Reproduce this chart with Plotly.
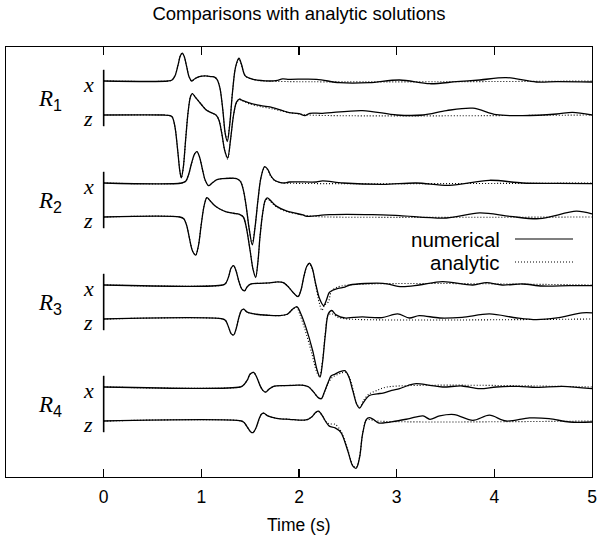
import plotly.graph_objects as go

# ---------------- data (time in s, amplitude in trace-spacing units) ----------------
TICK_VALUES = [0, 1, 2, 3, 4, 5]
TICK_LABELS = ["0", "1", "2", "3", "4", "5"]
RECEIVERS = ["R1", "R2", "R3", "R4"]
COMPONENTS = ["x", "z"]

# R1 x
R1X_NUM_T = [0, 0.66, 0.70, 0.73, 0.76, 0.785, 0.805, 0.825, 0.85, 0.875, 0.90, 0.93, 0.98, 1.04, 1.10, 1.13, 1.16, 1.19, 1.22, 1.245, 1.266, 1.29, 1.32, 1.35, 1.385, 1.41, 1.45, 1.53, 1.70, 1.78, 1.83, 1.90, 2.18, 2.415, 2.72, 3.03, 3.34, 3.61, 3.85, 4.12, 4.43, 4.64, 5.0]
R1X_NUM_A = [0, 0, 0.03, 0.15, 0.45, 0.74, 0.82, 0.72, 0.42, 0.12, 0.0, 0.06, 0.13, 0.15, 0.13, 0.12, 0.05, -0.2, -0.85, -1.55, -1.78, -1.3, -0.3, 0.4, 0.67, 0.5, 0.15, 0.05, 0.0, 0.02, 0.06, 0.05, 0.05, -0.05, -0.05, 0.03, -0.08, -0.02, 0.03, 0.1, -0.03, -0.02, -0.03]
R1X_ANA_T = [0, 0.66, 0.70, 0.73, 0.76, 0.785, 0.805, 0.825, 0.85, 0.875, 0.90, 0.93, 0.98, 1.04, 1.10, 1.13, 1.16, 1.19, 1.22, 1.245, 1.266, 1.29, 1.32, 1.35, 1.385, 1.41, 1.45, 1.53, 1.65, 5.0]
R1X_ANA_A = [0, 0, 0.03, 0.15, 0.45, 0.74, 0.82, 0.72, 0.42, 0.12, 0.0, 0.06, 0.13, 0.15, 0.13, 0.12, 0.05, -0.2, -0.85, -1.55, -1.72, -1.3, -0.3, 0.4, 0.65, 0.48, 0.15, 0.04, 0.0, 0.0]

# R1 z
R1Z_NUM_T = [0, 0.62, 0.66, 0.70, 0.73, 0.76, 0.78, 0.795, 0.815, 0.84, 0.865, 0.89, 0.908, 0.94, 0.98, 1.02, 1.05, 1.10, 1.15, 1.18, 1.21, 1.24, 1.27, 1.30, 1.33, 1.36, 1.39, 1.42, 1.49, 1.60, 1.73, 1.83, 1.90, 2.0, 2.06, 2.11, 2.24, 2.65, 3.0, 3.27, 3.51, 3.78, 4.02, 4.29, 4.64, 4.80, 5.0]
R1Z_NUM_A = [0, 0, -0.01, -0.05, -0.35, -1.1, -1.65, -1.85, -1.55, -0.7, 0.1, 0.55, 0.63, 0.52, 0.38, 0.24, 0.15, 0.07, 0.0, -0.15, -0.55, -1.05, -1.26, -0.7, 0.0, 0.38, 0.47, 0.43, 0.36, 0.28, 0.22, 0.13, 0.07, 0.04, -0.02, 0.05, 0.05, 0.13, 0.0, 0.0, 0.13, 0.2, 0.01, -0.02, 0.03, 0.08, 0.0]
R1Z_ANA_T = [0, 0.62, 0.66, 0.70, 0.73, 0.76, 0.78, 0.795, 0.815, 0.84, 0.865, 0.89, 0.908, 0.94, 0.98, 1.02, 1.05, 1.10, 1.15, 1.18, 1.21, 1.24, 1.27, 1.30, 1.33, 1.36, 1.39, 1.42, 1.49, 1.60, 1.73, 1.83, 1.95, 2.10, 5.0]
R1Z_ANA_A = [0, 0, -0.01, -0.05, -0.35, -1.1, -1.65, -1.85, -1.55, -0.7, 0.1, 0.55, 0.63, 0.52, 0.38, 0.24, 0.15, 0.07, 0.0, -0.15, -0.55, -1.05, -1.3, -0.7, 0.0, 0.36, 0.45, 0.42, 0.33, 0.25, 0.18, 0.11, 0.05, 0.0, 0.0]

# R2 x
R2X_NUM_T = [0, 0.80, 0.84, 0.87, 0.90, 0.93, 0.955, 0.98, 1.01, 1.04, 1.075, 1.11, 1.16, 1.22, 1.30, 1.36, 1.40, 1.43, 1.46, 1.49, 1.522, 1.55, 1.58, 1.61, 1.648, 1.68, 1.71, 1.75, 1.80, 1.85, 1.90, 2.18, 2.24, 2.45, 2.86, 3.20, 3.54, 3.95, 4.29, 4.64, 5.0]
R2X_NUM_A = [0, 0, 0.05, 0.25, 0.58, 0.85, 0.92, 0.78, 0.42, 0.08, -0.08, 0.0, 0.1, 0.13, 0.14, 0.13, 0.05, -0.2, -0.7, -1.35, -1.82, -1.3, -0.5, 0.15, 0.48, 0.4, 0.22, 0.08, 0.02, 0.0, 0.03, 0.03, 0.06, 0.0, -0.04, 0.0, -0.07, 0.08, 0.0, -0.01, -0.02]
R2X_ANA_T = [0, 0.80, 0.84, 0.87, 0.90, 0.93, 0.955, 0.98, 1.01, 1.04, 1.075, 1.11, 1.16, 1.22, 1.30, 1.36, 1.40, 1.43, 1.46, 1.49, 1.518, 1.55, 1.58, 1.61, 1.648, 1.68, 1.71, 1.75, 1.80, 1.85, 5.0]
R2X_ANA_A = [0, 0, 0.05, 0.25, 0.58, 0.85, 0.92, 0.78, 0.42, 0.08, -0.08, 0.0, 0.1, 0.13, 0.14, 0.13, 0.05, -0.2, -0.7, -1.35, -1.78, -1.3, -0.5, 0.15, 0.46, 0.38, 0.2, 0.07, 0.02, 0.0, 0.0]

# R2 z
R2Z_NUM_T = [0, 0.78, 0.82, 0.85, 0.88, 0.91, 0.942, 0.97, 1.0, 1.03, 1.057, 1.09, 1.13, 1.18, 1.256, 1.33, 1.39, 1.43, 1.46, 1.50, 1.53, 1.556, 1.58, 1.60, 1.63, 1.655, 1.678, 1.72, 1.768, 1.87, 1.95, 2.04, 2.08, 2.31, 2.75, 3.03, 3.51, 3.85, 4.16, 4.46, 4.84, 5.0]
R2Z_NUM_A = [0, 0, -0.05, -0.25, -0.65, -1.0, -1.12, -0.85, -0.2, 0.35, 0.57, 0.48, 0.35, 0.25, 0.15, 0.11, 0.08, 0.0, -0.3, -1.0, -1.55, -1.78, -1.3, -0.6, 0.15, 0.5, 0.56, 0.45, 0.32, 0.18, 0.12, 0.06, 0.02, 0.07, 0.07, 0.04, -0.03, 0.12, 0.02, -0.05, 0.17, 0.09]
R2Z_ANA_T = [0, 0.78, 0.82, 0.85, 0.88, 0.91, 0.942, 0.97, 1.0, 1.03, 1.057, 1.09, 1.13, 1.18, 1.256, 1.33, 1.39, 1.43, 1.46, 1.50, 1.53, 1.556, 1.58, 1.60, 1.63, 1.655, 1.678, 1.72, 1.768, 1.87, 2.0, 2.15, 2.3, 5.0]
R2Z_ANA_A = [0, 0, -0.05, -0.25, -0.65, -1.0, -1.12, -0.85, -0.2, 0.35, 0.57, 0.48, 0.35, 0.25, 0.15, 0.11, 0.08, 0.0, -0.3, -1.0, -1.55, -1.75, -1.3, -0.6, 0.15, 0.48, 0.53, 0.42, 0.3, 0.16, 0.08, 0.02, 0.0, 0.0]

# R3 x
R3X_NUM_T = [0, 1.22, 1.25, 1.28, 1.305, 1.33, 1.355, 1.385, 1.415, 1.443, 1.47, 1.51, 1.60, 1.70, 1.78, 1.84, 1.89, 1.94, 1.99, 2.02, 2.05, 2.08, 2.108, 2.135, 2.17, 2.21, 2.252, 2.28, 2.31, 2.347, 2.40, 2.47, 2.52, 2.86, 3.05, 3.23, 3.47, 3.78, 3.92, 4.08, 4.29, 4.49, 4.77, 5.0]
R3X_NUM_A = [0, 0, 0.05, 0.25, 0.5, 0.57, 0.42, 0.1, -0.12, -0.17, -0.05, 0.03, 0.05, 0.06, 0.09, 0.07, -0.05, -0.22, -0.34, -0.15, 0.25, 0.55, 0.64, 0.5, 0.05, -0.4, -0.61, -0.45, -0.22, -0.15, -0.1, -0.06, 0.0, 0.05, -0.05, 0.0, 0.1, 0.0, 0.07, 0.0, 0.03, -0.03, -0.02, -0.02]
R3X_ANA_T = [0, 1.22, 1.25, 1.28, 1.305, 1.33, 1.355, 1.385, 1.415, 1.443, 1.47, 1.51, 1.60, 1.70, 1.78, 1.84, 1.89, 1.94, 1.99, 2.02, 2.05, 2.08, 2.105, 2.135, 2.17, 2.21, 2.235, 2.26, 2.30, 2.33, 2.38, 2.5, 5.0]
R3X_ANA_A = [0, 0, 0.05, 0.25, 0.5, 0.57, 0.42, 0.1, -0.12, -0.17, -0.05, 0.03, 0.05, 0.06, 0.09, 0.07, -0.05, -0.22, -0.34, -0.15, 0.25, 0.55, 0.62, 0.48, 0.0, -0.55, -0.75, -0.6, -0.5, -0.2, -0.08, 0.0, 0.0]

# R3 z
R3Z_NUM_T = [0, 1.22, 1.25, 1.28, 1.305, 1.33, 1.355, 1.385, 1.41, 1.433, 1.47, 1.56, 1.68, 1.80, 1.88, 1.94, 1.98, 2.02, 2.07, 2.14, 2.185, 2.215, 2.24, 2.27, 2.30, 2.335, 2.38, 2.47, 2.56, 2.65, 2.85, 3.01, 3.13, 3.23, 3.44, 3.67, 3.95, 4.23, 4.43, 4.64, 4.90, 5.0]
R3Z_NUM_A = [0, 0, -0.05, -0.25, -0.43, -0.47, -0.3, 0.05, 0.25, 0.29, 0.2, 0.14, 0.11, 0.1, 0.14, 0.3, 0.36, 0.15, -0.24, -0.93, -1.5, -1.71, -1.3, -0.45, 0.15, 0.25, 0.12, 0.03, 0.05, 0.06, 0.04, 0.15, 0.03, 0.1, 0.03, 0.05, 0.15, 0.03, -0.02, 0.03, 0.18, 0.18]
R3Z_ANA_T = [0, 1.22, 1.25, 1.28, 1.305, 1.33, 1.355, 1.385, 1.41, 1.433, 1.47, 1.56, 1.68, 1.80, 1.88, 1.94, 1.975, 2.01, 2.06, 2.13, 2.18, 2.21, 2.24, 2.27, 2.30, 2.34, 2.40, 2.5, 5.0]
R3Z_ANA_A = [0, 0, -0.05, -0.25, -0.43, -0.47, -0.3, 0.05, 0.25, 0.29, 0.2, 0.14, 0.11, 0.1, 0.14, 0.3, 0.35, 0.12, -0.3, -1.0, -1.55, -1.7, -1.25, -0.4, 0.12, 0.15, 0.05, 0.0, 0.0]

# R4 x
R4X_NUM_T = [0, 1.40, 1.43, 1.47, 1.50, 1.535, 1.565, 1.60, 1.63, 1.66, 1.69, 1.74, 1.85, 1.95, 2.05, 2.10, 2.15, 2.20, 2.23, 2.26, 2.30, 2.33, 2.37, 2.42, 2.47, 2.51, 2.55, 2.59, 2.62, 2.66, 2.72, 2.80, 2.86, 2.95, 3.03, 3.12, 3.20, 3.34, 3.47, 3.67, 3.85, 4.02, 4.25, 4.43, 4.70, 5.0]
R4X_NUM_A = [0, 0, 0.05, 0.2, 0.38, 0.43, 0.3, 0.05, -0.1, -0.15, -0.07, 0.02, 0.04, 0.05, 0.05, 0.0, -0.15, -0.32, -0.34, -0.15, 0.15, 0.33, 0.38, 0.45, 0.48, 0.3, -0.1, -0.5, -0.62, -0.45, -0.25, -0.2, -0.18, -0.1, -0.05, 0.05, 0.1, 0.05, 0.0, 0.03, -0.05, 0.0, 0.02, -0.01, 0.02, -0.05]
R4X_ANA_T = [0, 1.40, 1.43, 1.47, 1.50, 1.535, 1.565, 1.60, 1.63, 1.66, 1.69, 1.74, 1.85, 1.95, 2.05, 2.10, 2.15, 2.20, 2.23, 2.26, 2.30, 2.34, 2.39, 2.44, 2.48, 2.52, 2.56, 2.595, 2.625, 2.66, 2.72, 2.80, 2.90, 5.0]
R4X_ANA_A = [0, 0, 0.05, 0.2, 0.38, 0.43, 0.3, 0.05, -0.1, -0.15, -0.07, 0.02, 0.04, 0.05, 0.05, 0.0, -0.15, -0.32, -0.34, -0.15, 0.12, 0.28, 0.36, 0.42, 0.43, 0.25, -0.15, -0.52, -0.6, -0.4, -0.2, -0.1, 0.0, 0.0]

# R4 z
R4Z_NUM_T = [0, 1.41, 1.44, 1.48, 1.51, 1.53, 1.56, 1.59, 1.615, 1.64, 1.68, 1.77, 1.90, 2.07, 2.13, 2.17, 2.20, 2.24, 2.27, 2.31, 2.37, 2.43, 2.50, 2.55, 2.586, 2.62, 2.65, 2.69, 2.72, 2.76, 2.82, 3.0, 3.13, 3.27, 3.34, 3.44, 3.59, 3.78, 3.95, 4.12, 4.36, 4.56, 4.77, 5.0]
R4Z_NUM_A = [0, 0, -0.05, -0.22, -0.33, -0.34, -0.2, 0.05, 0.2, 0.23, 0.15, 0.08, 0.05, 0.03, 0.12, 0.25, 0.29, 0.15, 0.0, -0.15, -0.2, -0.34, -0.88, -1.32, -1.39, -1.08, -0.4, 0.05, 0.1, 0.05, -0.06, 0.0, 0.07, 0.15, 0.05, 0.15, 0.19, 0.02, 0.17, 0.0, 0.09, 0.07, -0.03, -0.03]
R4Z_ANA_T = [0, 1.41, 1.44, 1.48, 1.51, 1.53, 1.56, 1.59, 1.615, 1.64, 1.68, 1.77, 1.90, 2.07, 2.13, 2.17, 2.20, 2.24, 2.27, 2.31, 2.37, 2.43, 2.50, 2.55, 2.583, 2.62, 2.65, 2.69, 2.73, 2.80, 5.0]
R4Z_ANA_A = [0, 0, -0.05, -0.22, -0.33, -0.34, -0.2, 0.05, 0.2, 0.23, 0.15, 0.08, 0.05, 0.03, 0.12, 0.25, 0.28, 0.15, 0.0, -0.08, -0.1, -0.3, -0.85, -1.3, -1.37, -1.05, -0.4, 0.03, 0.04, 0.0, 0.0]

NUMERICAL = {
    ("R1", "x"): (R1X_NUM_T, R1X_NUM_A), ("R1", "z"): (R1Z_NUM_T, R1Z_NUM_A),
    ("R2", "x"): (R2X_NUM_T, R2X_NUM_A), ("R2", "z"): (R2Z_NUM_T, R2Z_NUM_A),
    ("R3", "x"): (R3X_NUM_T, R3X_NUM_A), ("R3", "z"): (R3Z_NUM_T, R3Z_NUM_A),
    ("R4", "x"): (R4X_NUM_T, R4X_NUM_A), ("R4", "z"): (R4Z_NUM_T, R4Z_NUM_A),
}
ANALYTIC = {
    ("R1", "x"): (R1X_ANA_T, R1X_ANA_A), ("R1", "z"): (R1Z_ANA_T, R1Z_ANA_A),
    ("R2", "x"): (R2X_ANA_T, R2X_ANA_A), ("R2", "z"): (R2Z_ANA_T, R2Z_ANA_A),
    ("R3", "x"): (R3X_ANA_T, R3X_ANA_A), ("R3", "z"): (R3Z_ANA_T, R3Z_ANA_A),
    ("R4", "x"): (R4X_ANA_T, R4X_ANA_A), ("R4", "z"): (R4Z_ANA_T, R4Z_ANA_A),
}

# ---------------- layout constants ----------------
RECEIVER_GAP = 3.0
COMP_GAP = 1.0
SANS = "Liberation Sans, Arial, Helvetica, sans-serif"
SERIF = "Liberation Serif, Times New Roman, serif"
PLOT_TOP, PLOT_BOTTOM, PLOT_LEFT, PLOT_RIGHT = 47, 477, 6, 592


def offset(r, c):
    return -RECEIVER_GAP * RECEIVERS.index(r) - COMP_GAP * COMPONENTS.index(c)


def paper_y(ypix):
    return (PLOT_BOTTOM - ypix) / (PLOT_BOTTOM - PLOT_TOP)


def paper_x(xpix):
    return (xpix - PLOT_LEFT) / (PLOT_RIGHT - PLOT_LEFT)


fig = go.Figure()
for r in RECEIVERS:
    for c in COMPONENTS:
        off = offset(r, c)
        t, a = NUMERICAL[(r, c)]
        fig.add_trace(go.Scatter(x=t, y=[off + v for v in a], mode="lines",
                                 line=dict(color="black", width=1.3, shape="spline", smoothing=0.9),
                                 showlegend=False, hoverinfo="skip"))
        t, a = ANALYTIC[(r, c)]
        fig.add_trace(go.Scatter(x=t, y=[off + v for v in a], mode="lines",
                                 line=dict(color="black", width=1.1, shape="spline", smoothing=0.9,
                                           dash="1px,2px"),
                                 showlegend=False, hoverinfo="skip"))

shapes = []
annotations = []
for r in RECEIVERS:
    top = offset(r, "x") + 0.33
    bot = offset(r, "z") - 0.33
    shapes.append(dict(type="line", xref="x", yref="y", x0=0, x1=0, y0=bot, y1=top,
                       line=dict(color="black", width=1.6)))
    for c in COMPONENTS:
        annotations.append(dict(xref="x", yref="y", x=-0.16, y=offset(r, c), yshift=-3,
                                text="<i>%s</i>" % c, showarrow=False, xanchor="center", yanchor="middle",
                                font=dict(family=SERIF, size=22, color="black")))
    annotations.append(dict(xref="x", yref="y", x=-0.55, y=offset(r, "x") - 0.5, yshift=-2,
                            text="<i>R</i><sub><span style='font-family:Liberation Sans'>%s</span></sub>" % r[1],
                            showarrow=False, xanchor="center", yanchor="middle",
                            font=dict(family=SERIF, size=23, color="black")))

# legend (gnuplot style: text then sample on the right)
LEG_ITEMS = [("numerical", "solid"), ("analytic", "1px,2px")]
for i, (name, dash) in enumerate(LEG_ITEMS):
    yp = paper_y(239 + i * 23)
    annotations.append(dict(xref="paper", yref="paper", x=paper_x(502), y=yp, text=name,
                            showarrow=False, xanchor="right", yanchor="middle",
                            font=dict(family=SANS, size=20.5, color="black")))
    shapes.append(dict(type="line", xref="paper", yref="paper", x0=paper_x(515), x1=paper_x(573),
                       y0=yp, y1=yp, line=dict(color="black", width=1.2 if dash == "solid" else 1.1, dash=dash)))

# x axis title
annotations.append(dict(xref="paper", yref="paper", x=paper_x(299), y=paper_y(525), text="Time (s)",
                        showarrow=False, xanchor="center", yanchor="middle",
                        font=dict(family=SANS, size=17.5, color="black")))

fig.update_layout(
    width=598, height=540,
    margin=dict(l=PLOT_LEFT, r=598 - PLOT_RIGHT, t=PLOT_TOP, b=540 - PLOT_BOTTOM, autoexpand=False),
    paper_bgcolor="white", plot_bgcolor="white",
    title=dict(text="Comparisons with analytic solutions", x=0.5, xanchor="center",
               xref="paper", y=1 - 14 / 540, yref="container", yanchor="middle", automargin=False,
               font=dict(family=SANS, size=18.5, color="black")),
    shapes=shapes, annotations=annotations,
    xaxis=dict(range=[-1, 5], tickvals=TICK_VALUES, ticktext=TICK_LABELS, automargin=False,
               ticks="inside", ticklen=8, tickwidth=1.2, tickcolor="black",
               showline=True, linecolor="black", linewidth=1.4, mirror="ticks",
               showgrid=False, zeroline=False, ticklabelstandoff=4,
               tickfont=dict(family=SANS, size=17.5, color="black")),
    yaxis=dict(range=[-11.647, 1.0], showticklabels=False, ticks="", showline=True, automargin=False,
               linecolor="black", linewidth=1.4, mirror=True, showgrid=False, zeroline=False),
)

fig.write_html("out.html", config={"displayModeBar": False, "staticPlot": True},
               post_script="document.body.style.margin='0px';document.body.style.overflow='hidden';")
